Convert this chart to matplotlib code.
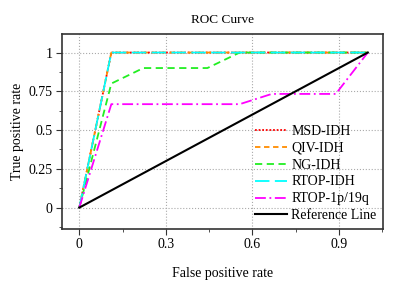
import matplotlib
matplotlib.use("Agg")
import matplotlib.pyplot as plt
from matplotlib.ticker import MultipleLocator

plt.rcParams['font.family'] = ['Liberation Serif', 'DejaVu Serif']

fpr_idh = [0, 0.111, 1]
tpr_idh = [0, 1, 1]
fpr_ng = [0, 0.111, 0.222, 0.444, 0.556, 1]
tpr_ng = [0, 0.8, 0.9, 0.9, 1, 1]
fpr_1p = [0, 0.111, 0.556, 0.667, 0.889, 1]
tpr_1p = [0, 0.667, 0.667, 0.733, 0.733, 1]
ref_x = [0, 1]
ref_y = [0, 1]

fig = plt.figure(figsize=(4, 2.9), dpi=100)
ax = fig.add_axes([0.155, 0.212, 0.802, 0.671])

ax.plot(fpr_idh, tpr_idh, color='red', linestyle=(0, (1, 1)), lw=1.3, label='MSD-IDH')
ax.plot(fpr_idh, tpr_idh, color='#ff8c00', linestyle=(0, (3, 2)), lw=1.3, label='QIV-IDH')
ax.plot(fpr_ng, tpr_ng, color='#22ee22', linestyle=(0, (4, 2.5)), lw=1.3, label='NG-IDH')
ax.plot(fpr_idh, tpr_idh, color='cyan', linestyle=(0, (8, 3)), lw=1.3, label='RTOP-IDH')
ax.plot(fpr_1p, tpr_1p, color='magenta', linestyle=(0, (6, 2, 1, 2)), lw=1.3, label='RTOP-1p/19q')
ax.plot(ref_x, ref_y, color='black', lw=1.5, label='Reference Line')

ax.set_xlim(-0.06, 1.052)
ax.set_ylim(-0.135, 1.12)
ax.xaxis.set_minor_locator(MultipleLocator(0.15))
ax.yaxis.set_minor_locator(MultipleLocator(0.125))
ax.set_xticks([0, 0.3, 0.6, 0.9])
ax.set_xticklabels(['0', '0.3', '0.6', '0.9'])
ax.set_yticks([0, 0.25, 0.5, 0.75, 1])
ax.set_yticklabels(['0', '0.25', '0.5', '0.75', '1'])
ax.tick_params(which='both', direction='out', labelsize=10, colors='#333333', pad=3)
ax.tick_params(which='major', length=4)
ax.tick_params(which='minor', length=2.5)
ax.tick_params(axis='both', labelcolor='black')
ax.grid(True, which='major', color='#aaaaaa', linestyle=':', lw=0.8)
for s in ax.spines.values():
    s.set_linewidth(1.2)
    s.set_color('#333333')

ax.set_title('ROC Curve', fontsize=9.5, pad=8)
ax.set_xlabel('False positive rate', fontsize=10, labelpad=11)
ax.set_ylabel('True positive rate', fontsize=10, labelpad=3)
ax.legend(loc='lower right', frameon=False, fontsize=10, handlelength=2.3,
          handletextpad=0.3, labelspacing=0.28, borderaxespad=0.05)

fig.savefig('out.png', dpi=100)
